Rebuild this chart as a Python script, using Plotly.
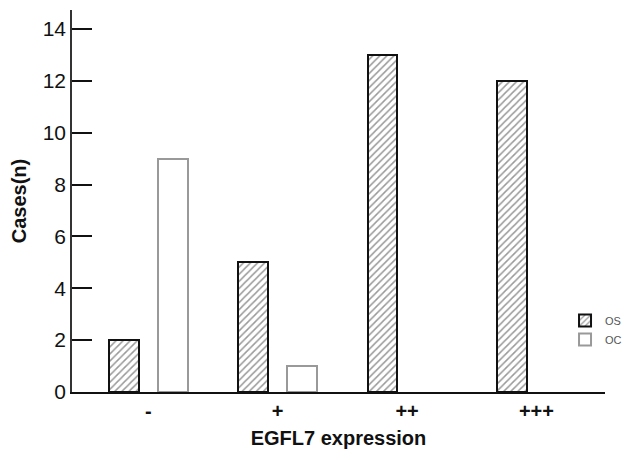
import plotly.graph_objects as go

categories = ["-", "+", "++", "+++"]
os_values = [2, 5, 13, 12]
oc_values = [9, 1, 0, 0]
y_ticks = [0, 2, 4, 6, 8, 10, 12, 14]

xpos = list(range(len(categories)))

fig = go.Figure()
fig.add_trace(go.Bar(
    x=xpos, y=os_values, name="OS", width=0.23, offset=-0.305,
    marker=dict(color="white", line=dict(color="#111111", width=2),
                pattern=dict(shape="/", fgcolor="#333333", bgcolor="white", size=5, solidity=0.3)),
))
oc_plot = [v if v > 0 else None for v in oc_values]
fig.add_trace(go.Bar(
    x=xpos, y=oc_plot, name="OC", width=0.23, offset=0.075,
    marker=dict(color="white", line=dict(color="#999999", width=2)),
))

fig.update_layout(
    width=633, height=460,
    margin=dict(l=64, r=36, t=2, b=76, autoexpand=False),
    plot_bgcolor="white", paper_bgcolor="white",
    font=dict(family="Liberation Sans, Arial, sans-serif", color="#111111"),
    showlegend=True,
    legend=dict(x=0.925, y=0.225, xanchor="left", yanchor="top",
                font=dict(size=11, color="#555555"), bgcolor="rgba(0,0,0,0)",
                itemwidth=30, tracegroupgap=2),
    bargap=0,
)
fig.update_xaxes(
    range=[-0.59, 3.53], tickvals=xpos, ticktext=["<b>" + c + "</b>" for c in categories],
    showline=True, linecolor="#111111", linewidth=2, ticks="",
    tickfont=dict(size=20, color="#111111"),
    showgrid=False, zeroline=False,
    title=dict(text="<b>EGFL7 expression</b>", font=dict(size=20), standoff=10),
)
fig.update_yaxes(
    range=[0, 14.73], tickvals=y_ticks,
    showline=True, linecolor="#333333", linewidth=1.5,
    ticks="inside", ticklen=20, tickwidth=2, tickcolor="#111111",
    tickfont=dict(size=21, color="#111111"),
    showgrid=False, zeroline=False,
    title=dict(text="<b>Cases(n)</b>", font=dict(size=20), standoff=12),
)

fig.write_html("out.html")
